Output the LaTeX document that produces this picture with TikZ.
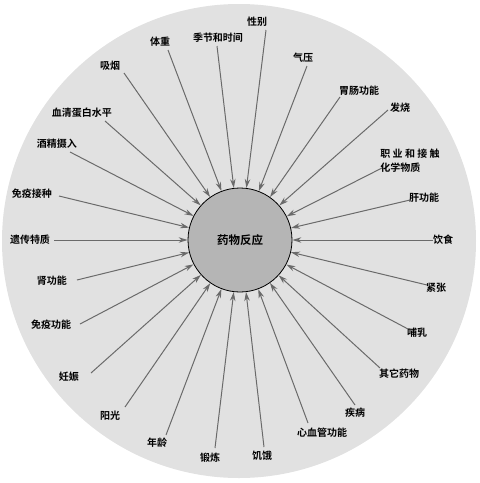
\documentclass[tikz,border=0pt]{standalone}
\usepackage{fontspec}
\setmainfont{Noto Sans CJK SC}[BoldFont={Noto Sans CJK SC Bold}]
\usetikzlibrary{arrows.meta}
\definecolor{outergray}{HTML}{E1E1E1}
\definecolor{innergray}{HTML}{B5B5B5}
\definecolor{arrowgray}{HTML}{6A6A6A}
\newcommand{\factorfont}{\fontsize{10pt}{14pt}\selectfont\bfseries}
\begin{document}
\begin{tikzpicture}[x=1pt,y=-1pt,
	factor/.style={font=\factorfont, inner sep=1pt, align=left},
	influence/.style={draw=arrowgray, line width=1pt, -{Stealth[length=9pt,width=5.5pt]}}]
	\useasboundingbox (0,0) rectangle (480,483);
	\fill [outergray] (239,241) circle (237pt);
	\node [circle, draw, line width=0.8pt, fill=innergray, minimum size=104pt,
		font=\fontsize{11.5pt}{14pt}\selectfont\bfseries] (drug) at (240,240) {药物反应};
	% factors: label x/y, tail x/y
	\foreach \name/\lx/\ly/\tx/\ty [count=\i] in {
		性别/257/22/266/30, 气压/303/58/307/66, 胃肠功能/359/91/340/97,
		发烧/400/108/388/110, 职 业 和 接 触\\化学物质/410/161/382/168,
		肝功能/424/198/410/200, 饮食/443/240/433/240, 紧张/436/288/427/285,
		哺乳/417/333/408/329, 其它药物/399/374/380/368, 疾病/355/413/355/405,
		心血管功能/322/433/308/423, 饥饿/262/456/264/447, 锻炼/210/458/215/448,
		年龄/157/443/166/435, 阳光/110/416/125/407, 妊娠/69/377/91/373,
		免疫功能/51/325/80/324, 肾功能/52/281/77/280, 遗传特质/30/240/54/240,
		免疫接种/32/194/59/196, 酒精摄入/57/144/70/152, 血清蛋白水平/82/113/105/121,
		吸烟/110/66/124/73, 体重/160/42/168/50, 季节和时间/218/38/217/46} {
		\node [factor] (f\i) at (\lx,\ly) {\name};
		\coordinate (t\i) at (\tx,\ty);
		\draw [influence] (t\i) -- (drug);
	}
\end{tikzpicture}
\end{document}
